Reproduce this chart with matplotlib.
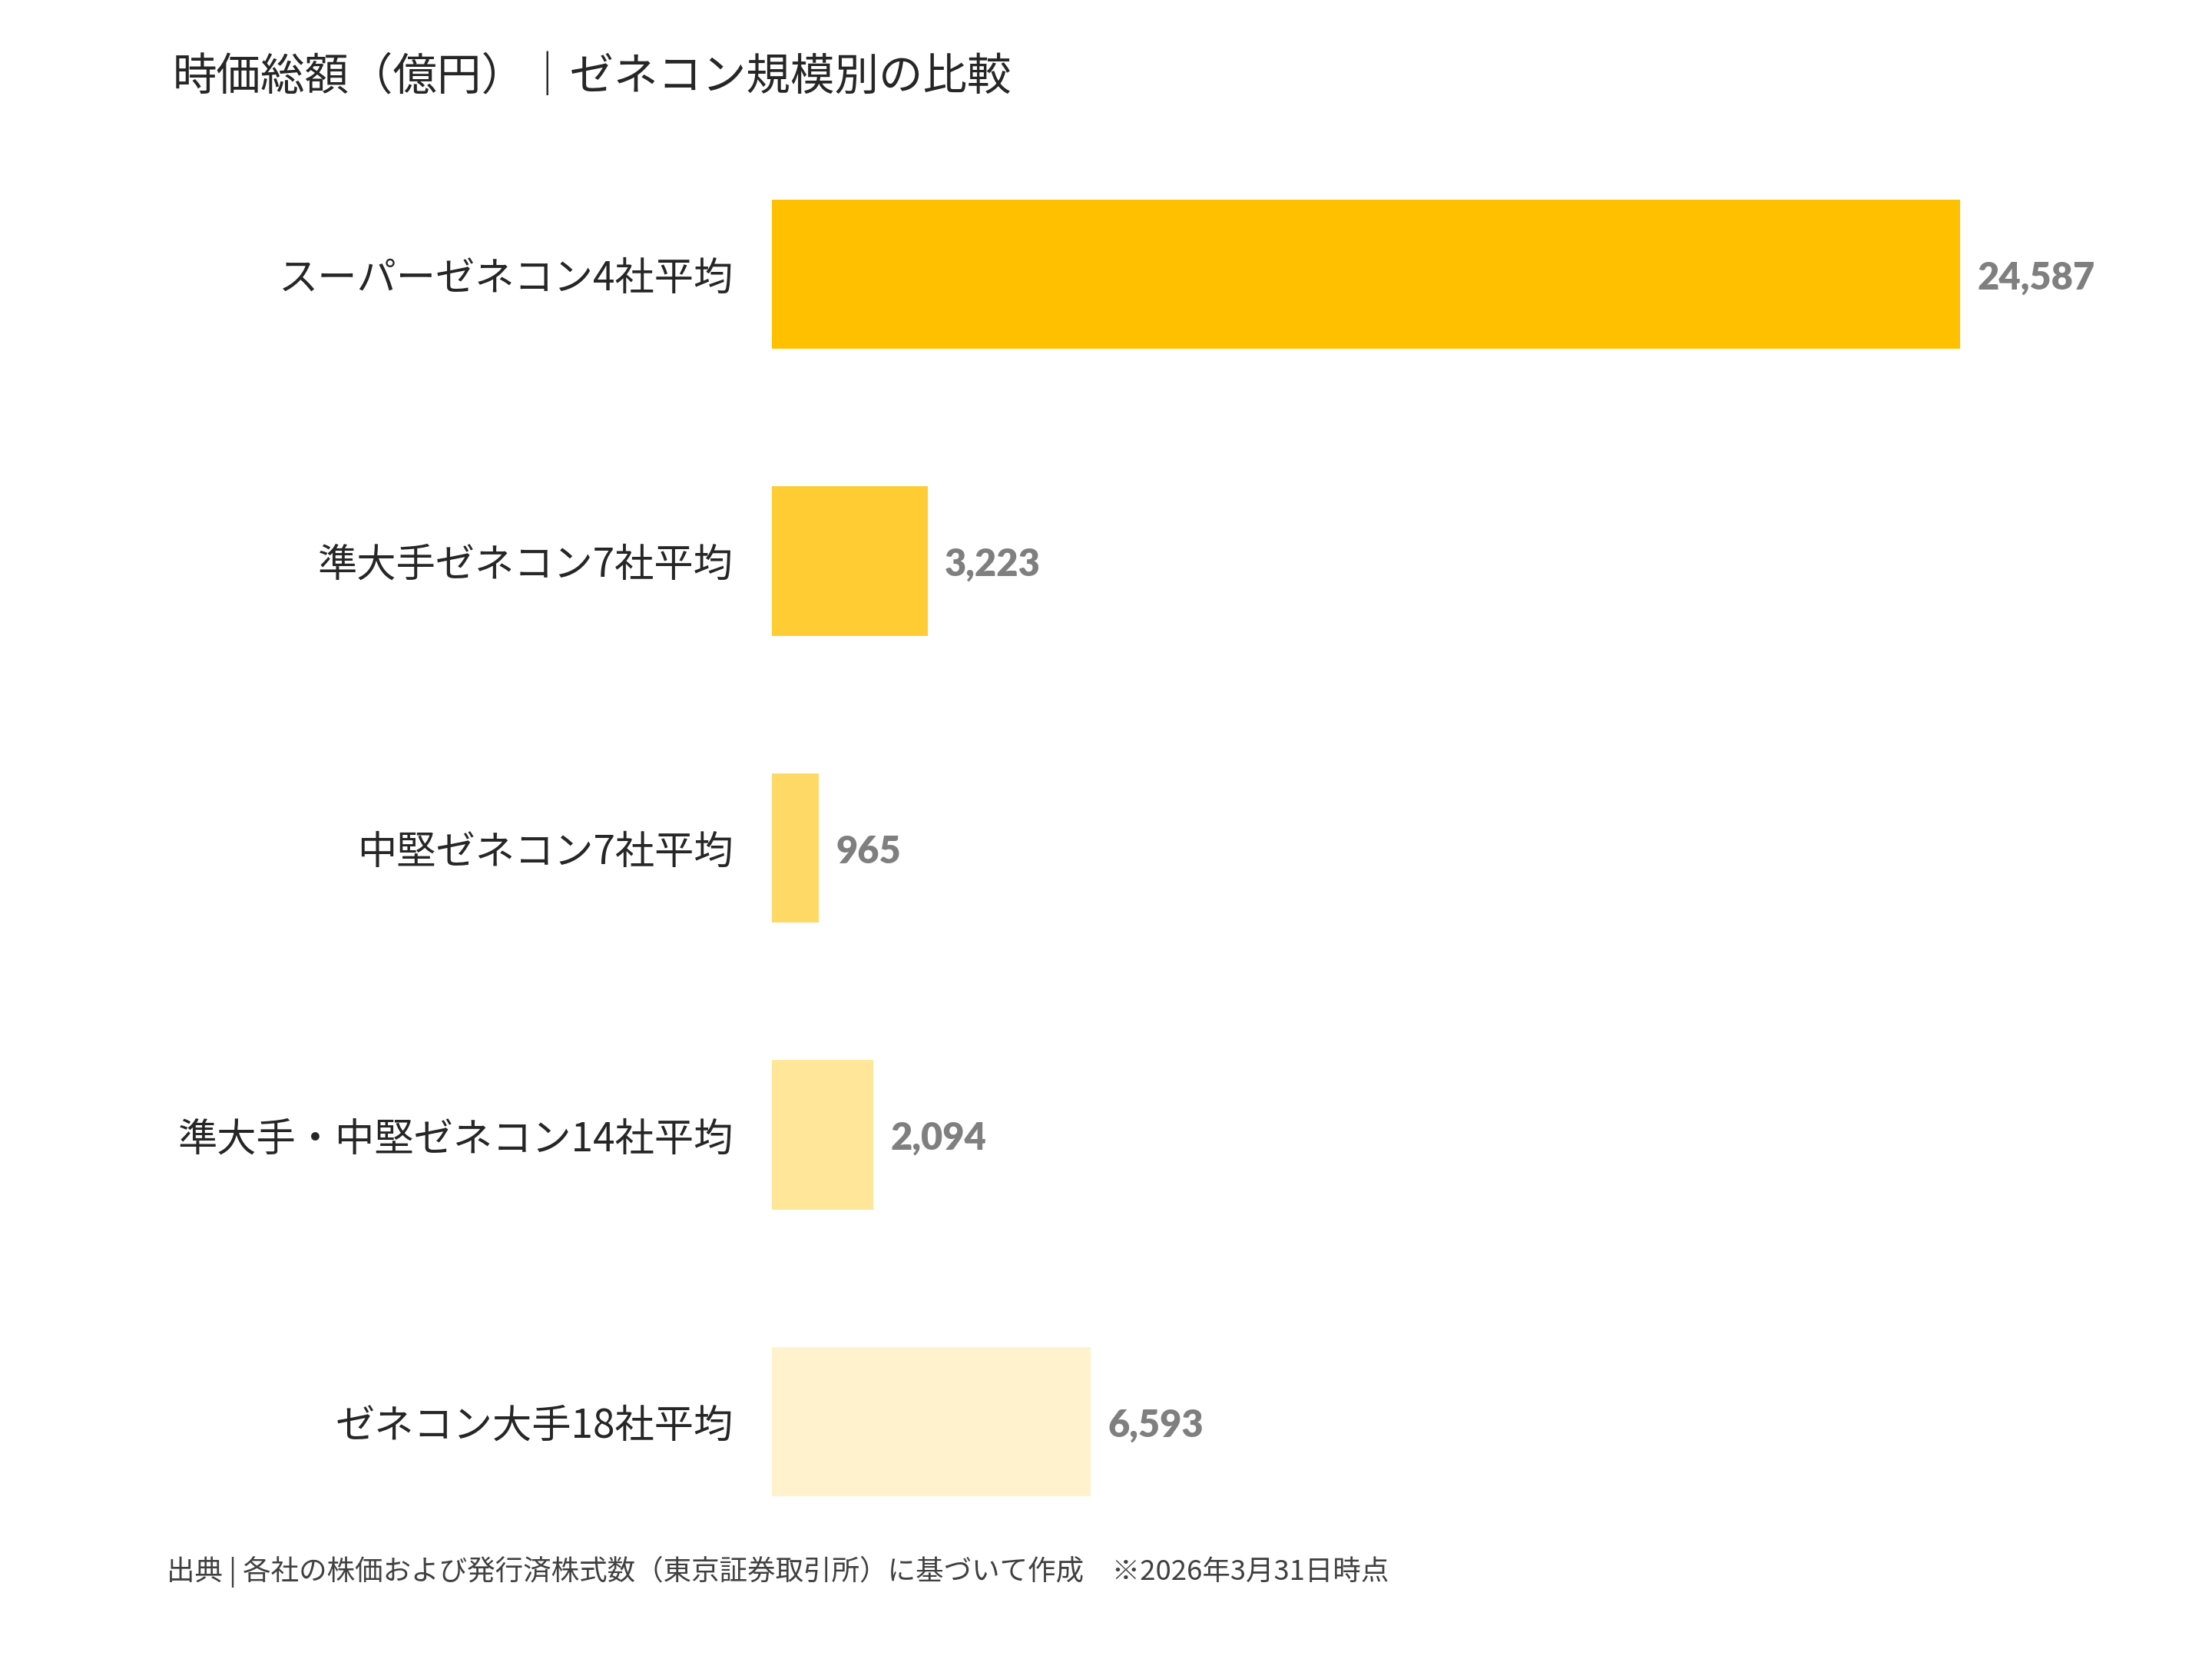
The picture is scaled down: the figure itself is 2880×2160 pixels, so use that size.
import matplotlib
matplotlib.use("Agg")
import matplotlib.pyplot as plt

plt.rcParams['font.family'] = ['Noto Sans CJK JP', 'DejaVu Sans']

# data
categories = ["スーパーゼネコン4社平均", "準大手ゼネコン7社平均", "中堅ゼネコン7社平均",
              "準大手・中堅ゼネコン14社平均", "ゼネコン大手18社平均"]
values = [24587, 3223, 965, 2094, 6593]
bar_colors = ["#FFC000", "#FFCC33", "#FFD966", "#FFE699", "#FFF2CC"]

title = "時価総額（億円）｜ゼネコン規模別の比較"
footer = "出典 | 各社の株価および発行済株式数（東京証券取引所）に基づいて作成　※2026年3月31日時点"

W, H = 2880, 2160
fig = plt.figure(figsize=(16, 12), dpi=180)

# axes placed in pixel terms of the reference
ax = fig.add_axes([1005 / W, 1 - 2038 / H, 1762 / W, 1868 / H])
ypos = list(range(len(categories)))
ax.barh(ypos, values, height=0.52, color=bar_colors)
ax.set_xlim(0, 28000)
ax.set_ylim(len(categories) - 0.5, -0.5)

ax.set_yticks(ypos)
ax.set_yticklabels(categories, fontsize=20.5, color="#262626")
ax.tick_params(axis="y", length=0, pad=20)
ax.set_xticks([])
for s in ax.spines.values():
    s.set_visible(False)

for y, v in zip(ypos, values):
    ax.annotate(f"{v:,}", xy=(v, y), xytext=(9, -2), textcoords="offset points",
                ha="left", va="center", fontsize=19.5, fontweight="heavy",
                color="#7F7F7F", family=["Lato", "DejaVu Sans"])

fig.text(225 / W, 1 - 101 / H, title, fontsize=23, color="#262626",
         ha="left", va="center")
fig.text(217 / W, 1 - 2046 / H, footer, fontsize=14.6, color="#404040",
         ha="left", va="center")

fig.savefig("out.png", dpi=180)
